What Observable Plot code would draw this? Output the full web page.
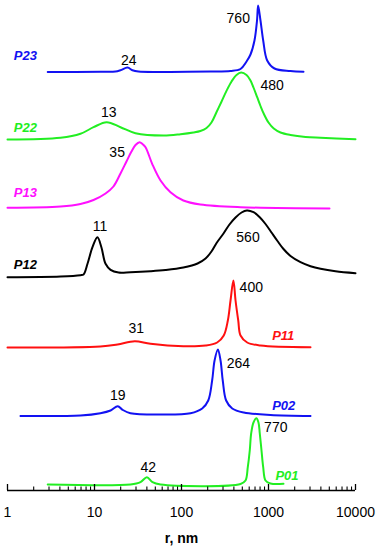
<!DOCTYPE html>
<html><head><meta charset="utf-8">
<script src="https://cdn.jsdelivr.net/npm/d3@7"></script>
<script src="https://cdn.jsdelivr.net/npm/@observablehq/plot@0.6"></script>
<style>body{margin:0;background:#fff}</style>
</head><body><div id="chart"></div>
<script>
// Sample names, colours and vertical stacking offsets (same units as intensity)
const seriesNames = ["P01", "P02", "P11", "P12", "P13", "P22", "P23"];
const seriesColors = ["#22ee22", "#1212f2", "#ff1010", "#000000", "#ff10ff", "#22ee22", "#1212f2"];
const seriesOffsets = [6, 74.5, 143, 213, 282, 351, 418.5];

// Size distributions: [r (nm), intensity]
const p01 = [[2.9,0],[25.9,0],[33.8,2.3],[40,7.3],[46.4,2.3],[57.4,0],[477,0.5],[544,4],[578,17.3],[609,34],[632,51],[672,62],[725,66.3],[767,62],[794,51],[831,34],[869,17.3],[924,4],[1054,1],[1487,0.7]];
const p02 = [[1.41,0],[6.9,0.5],[11.7,2.8],[15.3,5.5],[18.5,9.8],[21,6.2],[25.9,2.8],[57.4,1.5],[127,2.8],[173,7.5],[203,15.5],[225,35.5],[240,55.5],[262,66.5],[281,55.5],[298,35.5],[326,15.5],[383,7.5],[520,3.5],[1054,1],[3040,0]];
const p11 = [[1,0],[11.7,1],[18.4,3],[29,6.3],[44,3.7],[105,1.3],[189,2],[257,5],[306,12],[341,27],[366,47],[395,67],[418,47],[449,27],[477,12],[569,5],[809,2],[3040,0.3]];
const p12 = [[1,0.3],[4.07,1],[6.9,2.3],[7.48,3],[8.31,13.7],[9.48,30.3],[10.8,40.3],[12.0,30.3],[13.4,13.7],[15.3,7.7],[18.9,5],[25.9,5.3],[44,6.3],[65.5,7.5],[105,10],[153,14],[189,19],[221,26],[253,34.5],[304,44],[356,53],[418,60],[490,65],[565,67],[672,65.3],[788,60.5],[924,53.5],[1082,45],[1268,36.5],[1487,28.5],[1790,21.5],[2333,15.3],[3040,11.3],[3962,8.7],[5889,6.2],[10000,4.3]];
const p13 = [[1,0.7],[4.07,2],[6.9,4.5],[9.75,8.5],[13.4,15],[16.5,22],[19.9,35],[23.3,47],[26.6,57],[29.6,63.5],[33,66.3],[35.6,64.5],[38.6,61.3],[46,44.7],[57.4,28],[74.7,16.3],[105,8],[165,4],[477,1.3],[5025,0]];
const p22 = [[1,0],[4.07,1.7],[6.9,5.7],[9.75,12.3],[13.8,17.3],[19.9,12.3],[29.6,6.3],[62.1,4],[97.4,5.3],[137,7],[165,8.5],[194,11.5],[221,17],[253,27.5],[288,37.8],[329,48.6],[376,58],[429,64.6],[485,67],[559,64.6],[621,59],[672,52],[741,42.3],[809,33.5],[883,25.7],[1000,17],[1150,11],[1374,7],[1790,4.5],[2663,2.5],[3962,1.7],[10000,0.3]];
const p23 = [[2.9,0],[11.7,0.2],[17.4,0.4],[19.9,1.7],[24,4.4],[27.3,1.7],[32,0.4],[74.7,0.1],[215,0.5],[366,1],[477,3],[559,10.5],[621,17.5],[690,31.5],[738,51.5],[760,66.5],[809,51.5],[869,31.5],[966,11.5],[1172,3.5],[1790,1],[2525,0.3]];
const seriesData = [p01, p02, p11, p12, p13, p22, p23];

// Peak value annotations
const peakText = ["760", "24", "480", "13", "35", "11", "560", "400", "31", "264", "19", "770", "42"];
const peakR    = [449, 24.8, 1102, 14.6, 18.2, 11.6, 581, 634, 30.2, 450, 18.5, 1213, 41.4];
const peakY    = [471.7, 430, 405, 378.3, 337.7, 264, 253.3, 203.3, 161.7, 126.7, 95, 62.7, 23.3];

// Sample name label positions (same order as seriesNames)
const nameR = [1202, 1102, 1102, 1.18, 1.18, 1.18, 1.18];
const nameY = [15, 85, 155, 226, 297.3, 362.7, 435];

// Axis ticks
const majorTicks = [1, 10, 100, 1000, 10000];
const minorTicks = [];
for (const m of [1, 10, 100, 1000]) for (let k = 2; k <= 9; k++) minorTicks.push(k * m);

const rows = seriesNames.flatMap((name, i) =>
  seriesData[i].map(([r, v]) => ({name, r, y: seriesOffsets[i] + v})));
const peaks = peakText.map((t, i) => ({t, r: peakR[i], y: peakY[i]}));
const names = seriesNames.map((t, i) => ({t, r: nameR[i], y: nameY[i], c: seriesColors[i]}));

const font = "'Liberation Sans', Arial, Helvetica, sans-serif";

const chart = Plot.plot({
  width: 379, height: 550,
  marginLeft: 7, marginRight: 24, marginTop: 0, marginBottom: 60,
  x: {type: "log", domain: [1, 10000], axis: null},
  y: {domain: [0, 490], axis: null},
  style: {fontFamily: font, background: "#fff"},
  marks: [
    ...seriesNames.map((name, i) => Plot.line(rows.filter(d => d.name === name), {
      x: "r", y: "y", stroke: seriesColors[i], strokeWidth: 2, curve: "catmull-rom"
    })),
    Plot.ruleY([0], {stroke: "#000", strokeWidth: 1.6}),
    Plot.tickX(majorTicks, {x: d => d, insetTop: 484, stroke: "#000", strokeWidth: 1.3}),
    Plot.tickX(minorTicks, {x: d => d, insetTop: 486.5, stroke: "#000", strokeWidth: 1.1}),
    Plot.text(majorTicks, {x: d => d, text: d => String(d), frameAnchor: "bottom", lineAnchor: "middle", dy: 22, fontSize: 14, fill: "#000"}),
    Plot.text(["r, nm"], {text: d => d, frameAnchor: "bottom", lineAnchor: "middle", dy: 48, fontSize: 14, fontWeight: "bold", fill: "#000"}),
    Plot.text(peaks, {x: "r", y: "y", text: "t", fontSize: 14, fill: "#000"}),
    Plot.text(names, {x: "r", y: "y", text: "t", fill: d => d.c, textAnchor: "start",
      fontSize: 13, fontWeight: "bold", fontStyle: "italic"})
  ]
});
document.getElementById("chart").appendChild(chart);
</script>
</body></html>
